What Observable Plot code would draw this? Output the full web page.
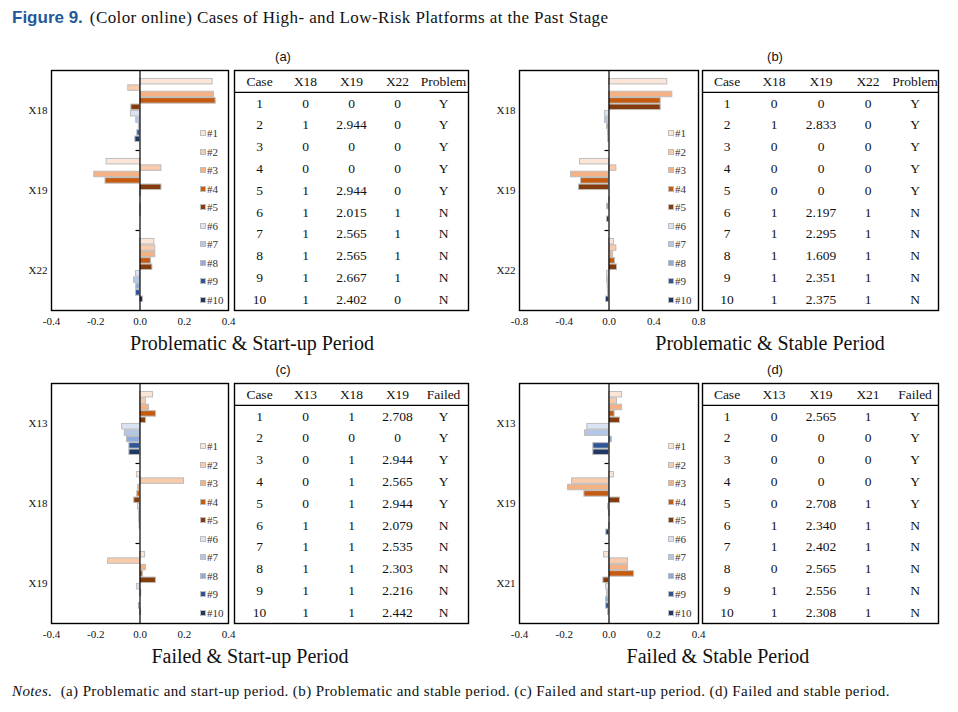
<!DOCTYPE html>
<html>
<head>
<meta charset="utf-8">
<script src="https://cdn.jsdelivr.net/npm/d3@7"></script>
<script src="https://cdn.jsdelivr.net/npm/@observablehq/plot@0.6"></script>
<style>
  body { margin: 0; background: #fff; }
  #fig { position: relative; width: 958px; height: 712px; overflow: hidden; font-family: "Liberation Serif", "Times New Roman", serif; color: #111; }
  .abs { position: absolute; }
  .plabel { font-family: "Liberation Sans", Arial, sans-serif; font-size: 13px; width: 40px; text-align: center; }
  .sub { font-size: 20px; width: 400px; text-align: center; white-space: nowrap; }
  .legend { font-size: 11px; color: #333; }
  .legend .it { height: 18.5px; display: flex; align-items: center; }
  .legend .sw { width: 4px; height: 4px; border: 1px solid #bdbdbd; margin-right: 1px; }
</style>
</head>
<body>
<div id="fig">
  <div class="abs" style="left:12px;top:8px;white-space:nowrap;">
    <span style="font-family:'Liberation Sans',Arial,sans-serif;font-weight:bold;font-size:17px;color:#1f5a9a;">Figure 9.</span><span style="font-size:17px;letter-spacing:0.4px;margin-left:7px;">(Color online) Cases of High- and Low-Risk Platforms at the Past Stage</span>
  </div>
  <div class="abs" style="left:12px;top:683px;white-space:nowrap;font-size:15px;letter-spacing:0.4px;">
    <i>Notes.</i>&nbsp; (a) Problematic and start-up period. (b) Problematic and stable period. (c) Failed and start-up period. (d) Failed and stable period.
  </div>
</div>
<script>
// ---------- data ----------
const cases = ["#1", "#2", "#3", "#4", "#5", "#6", "#7", "#8", "#9", "#10"];
const caseColors = ["#fbe5d6", "#f8cbad", "#f4b183", "#c55a11", "#843c0c", "#dae3f3", "#b4c7e7", "#8faadc", "#2f5597", "#1f3864"];

// (a) Problematic & Start-up Period
const varsA = ["X18", "X19", "X22"];
const aX18 = [0.328, -0.053, 0.334, 0.342, -0.039, -0.041, -0.017, -0.005, -0.012, -0.021];
const aX19 = [-0.151, 0.097, -0.207, -0.156, 0.097, 0.005, 0, 0.004, 0.004, 0];
const aX22 = [0.065, 0.069, 0.069, 0.050, 0.056, -0.018, -0.027, -0.017, -0.018, 0.014];
// (b) Problematic & Stable Period
const varsB = ["X18", "X19", "X22"];
const bX18 = [0.521, 0, 0.566, 0.462, 0.462, -0.036, -0.036, -0.018, -0.009, -0.006];
const bX19 = [-0.259, 0.066, -0.340, -0.250, -0.268, 0, 0.009, -0.018, 0, -0.018];
const bX22 = [0.045, 0.066, 0.036, 0.054, 0.072, -0.018, -0.018, -0.012, -0.009, -0.027];
// (c) Failed & Start-up Period
const varsC = ["X13", "X18", "X19"];
const cX13 = [0.059, 0.027, 0.041, 0.072, 0.027, -0.081, -0.069, -0.059, -0.048, -0.048];
const cX18 = [-0.014, 0.199, -0.008, -0.012, -0.026, -0.009, -0.005, -0.004, -0.002, 0];
const cX19 = [0.023, -0.144, 0.027, 0.014, 0.072, -0.014, 0.006, 0, -0.005, 0.005];
// (d) Failed & Stable Period
const varsD = ["X13", "X19", "X21"];
const dX13 = [0.058, 0.036, 0.058, 0.025, 0.049, -0.097, -0.107, 0.013, -0.070, -0.070];
const dX19 = [0.022, -0.165, -0.183, -0.110, 0.049, -0.004, 0.004, 0, 0.003, -0.012];
const dX21 = [-0.022, 0.085, 0.085, 0.112, -0.025, -0.013, -0.009, -0.013, -0.013, -0.004];

// tables
const caseNums = ["1", "2", "3", "4", "5", "6", "7", "8", "9", "10"];
const headA = ["Case", "X18", "X19", "X22", "Problem"];
const tA_X18 = ["0", "1", "0", "0", "1", "1", "1", "1", "1", "1"];
const tA_X19 = ["0", "2.944", "0", "0", "2.944", "2.015", "2.565", "2.565", "2.667", "2.402"];
const tA_X22 = ["0", "0", "0", "0", "0", "1", "1", "1", "1", "0"];
const tA_Problem = ["Y", "Y", "Y", "Y", "Y", "N", "N", "N", "N", "N"];

const headB = ["Case", "X18", "X19", "X22", "Problem"];
const tB_X18 = ["0", "1", "0", "0", "0", "1", "1", "1", "1", "1"];
const tB_X19 = ["0", "2.833", "0", "0", "0", "2.197", "2.295", "1.609", "2.351", "2.375"];
const tB_X22 = ["0", "0", "0", "0", "0", "1", "1", "1", "1", "1"];
const tB_Problem = ["Y", "Y", "Y", "Y", "Y", "N", "N", "N", "N", "N"];

const headC = ["Case", "X13", "X18", "X19", "Failed"];
const tC_X13 = ["0", "0", "0", "0", "0", "1", "1", "1", "1", "1"];
const tC_X18 = ["1", "0", "1", "1", "1", "1", "1", "1", "1", "1"];
const tC_X19 = ["2.708", "0", "2.944", "2.565", "2.944", "2.079", "2.535", "2.303", "2.216", "2.442"];
const tC_Failed = ["Y", "Y", "Y", "Y", "Y", "N", "N", "N", "N", "N"];

const headD = ["Case", "X13", "X19", "X21", "Failed"];
const tD_X13 = ["0", "0", "0", "0", "0", "1", "1", "0", "1", "1"];
const tD_X19 = ["2.565", "0", "0", "0", "2.708", "2.340", "2.402", "2.565", "2.556", "2.308"];
const tD_X21 = ["1", "0", "0", "0", "1", "1", "1", "1", "1", "1"];
const tD_Failed = ["Y", "Y", "Y", "Y", "Y", "N", "N", "N", "N", "N"];

const xTicks4 = [-0.4, -0.2, 0, 0.2, 0.4];
const xTicks8 = [-0.8, -0.4, 0, 0.4, 0.8];

// ---------- layout ----------
const panels = [
  {label: "(a)", labelX: 283, labelY: 49, vars: varsA, series: [aX18, aX19, aX22], domain: [-0.4, 0.4], ticks: xTicks4,
   fl: 51, fr: 228, ft: 70, tl: 234, tw: 234, head: headA, cols: [caseNums, tA_X18, tA_X19, tA_X22, tA_Problem],
   sub: "Problematic & Start-up Period", subX: 252, subY: 344},
  {label: "(b)", labelX: 775, labelY: 49, vars: varsB, series: [bX18, bX19, bX22], domain: [-0.8, 0.8], ticks: xTicks8,
   fl: 519, fr: 698, ft: 70, tl: 702, tw: 236, head: headB, cols: [caseNums, tB_X18, tB_X19, tB_X22, tB_Problem],
   sub: "Problematic & Stable Period", subX: 770, subY: 344},
  {label: "(c)", labelX: 283, labelY: 362, vars: varsC, series: [cX13, cX18, cX19], domain: [-0.4, 0.4], ticks: xTicks4,
   fl: 51, fr: 228, ft: 383, tl: 234, tw: 234, head: headC, cols: [caseNums, tC_X13, tC_X18, tC_X19, tC_Failed],
   sub: "Failed & Start-up Period", subX: 250, subY: 657},
  {label: "(d)", labelX: 775, labelY: 362, vars: varsD, series: [dX13, dX19, dX21], domain: [-0.4, 0.4], ticks: xTicks4,
   fl: 519, fr: 698, ft: 383, tl: 702, tw: 236, head: headD, cols: [caseNums, tD_X13, tD_X19, tD_X21, tD_Failed],
   sub: "Failed & Stable Period", subX: 718, subY: 657}
];

const fig = document.getElementById("fig");
const FH = 240;            // plot-frame height
const PAD = 1.25;          // group padding (in bar slots)
const GROUP = cases.length + 2 * PAD;
const baseStyle = {fontFamily: "'Liberation Serif', 'Times New Roman', serif", fontSize: "11px", background: "transparent", overflow: "visible", color: "#111"};

function place(el, left, top) {
  const d = document.createElement("div");
  d.className = "abs";
  d.style.left = left + "px";
  d.style.top = top + "px";
  d.appendChild(el);
  fig.appendChild(d);
  return d;
}

panels.forEach(p => {
  // panel letter
  const lab = document.createElement("div");
  lab.className = "abs plabel";
  lab.style.left = (p.labelX - 20) + "px";
  lab.style.top = p.labelY + "px";
  lab.textContent = p.label;
  fig.appendChild(lab);

  // bars data
  const data = [];
  p.vars.forEach((v, g) => p.series[g].forEach((val, i) => data.push({v, g, i, c: cases[i], val})));
  const pos = d => d.g * GROUP + PAD + d.i + 0.5;
  const groupCenters = p.vars.map((v, g) => g * GROUP + GROUP / 2);
  const groupBounds = p.vars.slice(1).map((v, g) => (g + 1) * GROUP);

  const mL = 51, mR = 6, mT = 10, mB = 26;
  const chart = Plot.plot({
    width: mL + (p.fr - p.fl) + mR,
    height: mT + FH + mB,
    marginLeft: mL, marginRight: mR, marginTop: mT, marginBottom: mB,
    style: baseStyle,
    x: {domain: p.domain, ticks: p.ticks, tickFormat: d => d.toFixed(1), tickSize: 0, tickPadding: 7, label: null},
    y: {domain: [0, GROUP * p.vars.length], reverse: true, ticks: groupCenters,
        tickFormat: (d) => p.vars[groupCenters.indexOf(d)], tickSize: 0, tickPadding: 4, label: null},
    color: {domain: cases, range: caseColors},
    marks: [
      Plot.rect(data, {x1: 0, x2: "val", y1: d => pos(d) - 0.43, y2: d => pos(d) + 0.43,
        fill: "c", stroke: "#bdbdbd", strokeWidth: 1}),
      Plot.ruleX([0], {stroke: "#000", strokeWidth: 1.2}),
      Plot.ruleY(groupBounds, {x1: 0, x2: 0, insetLeft: -4, stroke: "#000", strokeWidth: 1.2}),
      Plot.frame({stroke: "#000", strokeWidth: 1.4})
    ]
  });
  place(chart, p.fl - mL, p.ft - mT);

  // legend
  const lg = document.createElement("div");
  lg.className = "legend";
  cases.forEach((c, i) => {
    const it = document.createElement("div");
    it.className = "it";
    const sw = document.createElement("div");
    sw.className = "sw";
    sw.style.background = caseColors[i];
    it.appendChild(sw);
    const t = document.createElement("span");
    t.textContent = c;
    it.appendChild(t);
    lg.appendChild(it);
  });
  place(lg, p.fl + 149, p.ft + 63 - 9.25);

  // table
  const cells = [];
  p.head.forEach((h, j) => cells.push({col: h, row: 0, text: h}));
  p.cols.forEach((colVals, j) => colVals.forEach((t, r) => cells.push({col: p.head[j], row: r + 1, text: t})));
  const table = Plot.plot({
    width: p.tw + 2, height: FH + 2,
    marginLeft: 1, marginRight: 1, marginTop: 1, marginBottom: 1,
    style: baseStyle,
    x: {type: "band", domain: p.head, padding: 0, axis: null},
    y: {domain: [0, caseNums.length + 1], reverse: true, axis: null},
    marks: [
      Plot.frame({stroke: "#000", strokeWidth: 1.4}),
      Plot.ruleY([1], {stroke: "#000", strokeWidth: 1.2}),
      Plot.text(cells, {x: "col", y: d => d.row + 0.5, text: "text", fontSize: 13.5, fill: "#111"})
    ]
  });
  place(table, p.tl - 1, p.ft - 1);

  // subtitle
  const sub = document.createElement("div");
  sub.className = "abs sub";
  sub.style.left = (p.subX - 200) + "px";
  sub.style.top = (p.subY - 12) + "px";
  sub.textContent = p.sub;
  fig.appendChild(sub);
});
</script>
</body>
</html>
